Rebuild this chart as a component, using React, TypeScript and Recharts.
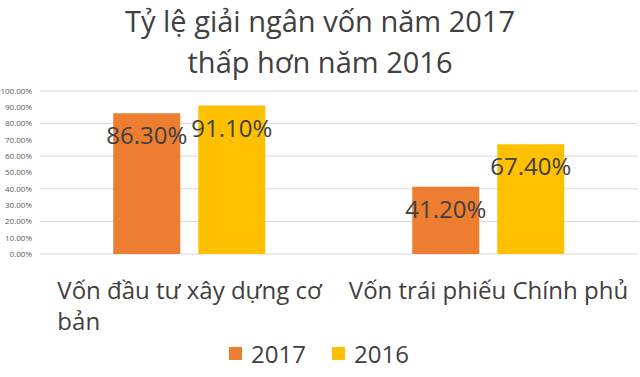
import { BarChart, Bar, XAxis, YAxis, CartesianGrid, Legend, LabelList } from "recharts";

const categories = ["Vốn đầu tư xây dựng cơ bản", "Vốn trái phiếu Chính phủ"];
const rate2017 = [86.3, 41.2];
const rate2016 = [91.1, 67.4];
const yTicks = [0, 10, 20, 30, 40, 50, 60, 70, 80, 90, 100];

const data = categories.map((name, i) => ({
  name,
  y2017: rate2017[i],
  y2016: rate2016[i],
}));

const FONT = "'Open Sans', 'Noto Sans', sans-serif";
const pct = (v: any) => `${Number(v).toFixed(2)}%`;

let ctx: CanvasRenderingContext2D | null = null;
function measure(text: string, font: string) {
  if (!ctx) ctx = document.createElement("canvas").getContext("2d");
  if (!ctx) return text.length * 12;
  ctx.font = font;
  return ctx.measureText(text).width;
}
function wrapWords(text: string, maxWidth: number, font: string) {
  const lines: string[] = [];
  let cur = "";
  for (const w of text.split(" ")) {
    const test = cur ? cur + " " + w : w;
    if (cur && measure(test, font) > maxWidth) {
      lines.push(cur);
      cur = w;
    } else cur = test;
  }
  if (cur) lines.push(cur);
  return lines;
}

function CategoryTick(props: any) {
  const { x, y, payload } = props;
  const font = `24px ${FONT}`;
  const lines = wrapWords(payload.value, 292, font);
  const left = x - measure(lines[0], font) / 2;
  return (
    <text x={left} y={y + 20} textAnchor="start" fontSize={24} fontFamily={FONT} fill="#404040">
      {lines.map((l, i) => (
        <tspan key={i} x={left} dy={i === 0 ? "0.71em" : 31}>
          {l}
        </tspan>
      ))}
    </text>
  );
}

function LegendBox() {
  const items = [
    { label: "2017", color: "#ED7D31" },
    { label: "2016", color: "#FFC000" },
  ];
  return (
    <div style={{ display: "flex", justifyContent: "center", gap: 26, fontFamily: FONT, fontSize: 24, color: "#404040" }}>
      {items.map((it) => (
        <div key={it.label} style={{ display: "flex", alignItems: "center" }}>
          <span style={{ width: 13, height: 13, background: it.color, marginRight: 9, display: "inline-block" }} />
          {it.label}
        </div>
      ))}
    </div>
  );
}

export default function App() {
  return (
    <div style={{ position: "absolute", left: 0, top: 0, width: 640, height: 377, background: "#fff" }}>
      <div
        style={{
          position: "absolute",
          left: 0,
          top: 0,
          width: 640,
          textAlign: "center",
          fontFamily: FONT,
          fontSize: 29,
          lineHeight: "41px",
          color: "#404040",
          zIndex: 1,
        }}
      >
        Tỷ lệ giải ngân vốn năm 2017
        <br />
        thấp hơn năm 2016
      </div>
      <BarChart
        width={640}
        height={377}
        data={data}
        margin={{ top: 91, right: 2, left: 0, bottom: 0 }}
        barCategoryGap="24.5%"
        barGap={18}
      >
        <CartesianGrid vertical={false} stroke="#d9d9d9" />
        <XAxis dataKey="name" axisLine={false} tickLine={false} height={83} interval={0} tick={<CategoryTick />} />
        <YAxis
          width={40}
          domain={[0, 100]}
          ticks={yTicks}
          tickFormatter={pct}
          axisLine={false}
          tickLine={false}
          tick={{ fontSize: 8, fill: "#595959", fontFamily: FONT }}
        />
        <Legend verticalAlign="bottom" height={40} content={<LegendBox />} />
        <Bar dataKey="y2017" name="2017" fill="#ED7D31" isAnimationActive={false}>
          <LabelList dataKey="y2017" position="insideTop" offset={14} formatter={pct} fontSize={24} fill="#404040" fontFamily={FONT} />
        </Bar>
        <Bar dataKey="y2016" name="2016" fill="#FFC000" isAnimationActive={false}>
          <LabelList dataKey="y2016" position="insideTop" offset={14} formatter={pct} fontSize={24} fill="#404040" fontFamily={FONT} />
        </Bar>
      </BarChart>
    </div>
  );
}
